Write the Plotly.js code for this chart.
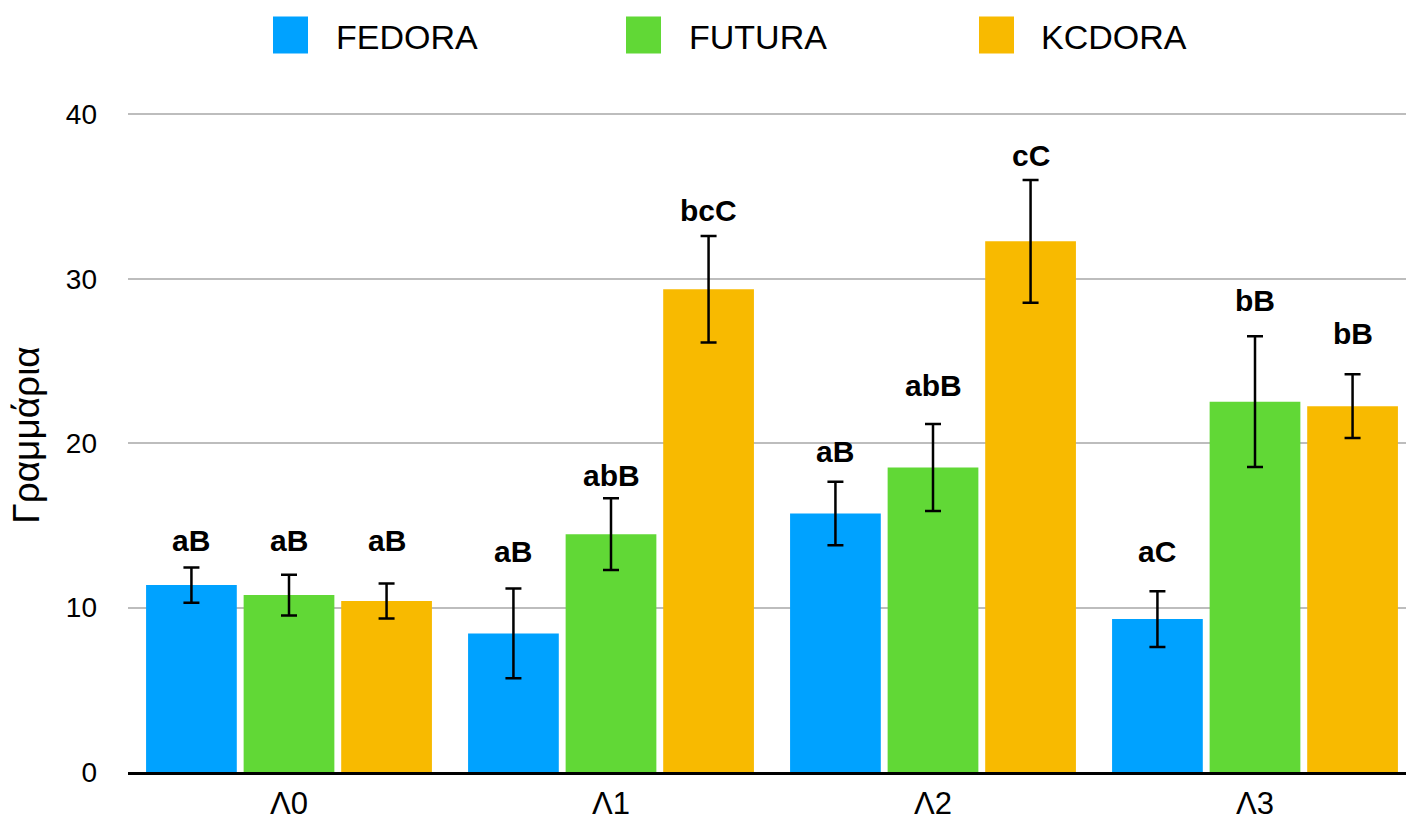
<!DOCTYPE html>
<html>
<head>
<meta charset="utf-8">
<script src="https://cdn.plot.ly/plotly-3.0.1.min.js"></script>
<style>html,body{margin:0;padding:0;background:#fff;}#chart{width:1406px;height:825px;}</style>
</head>
<body>
<div id="chart"></div>
<script>
var categories = ['Λ0', 'Λ1', 'Λ2', 'Λ3'];
var seriesNames = ['FEDORA', 'FUTURA', 'KCDORA'];
var fedora = [11.37, 8.43, 15.72, 9.30];
var fedoraErr = [1.07, 2.73, 1.93, 1.69];
var futura = [10.76, 14.47, 18.52, 22.53];
var futuraErr = [1.24, 2.18, 2.65, 3.97];
var kcdora = [10.40, 29.36, 32.28, 22.25];
var kcdoraErr = [1.07, 3.24, 3.73, 1.94];
var fedoraLabels = ['aB', 'aB', 'aB', 'aC'];
var futuraLabels = ['aB', 'abB', 'abB', 'bB'];
var kcdoraLabels = ['aB', 'bcC', 'cC', 'bB'];
var fedoraLabelY = [14.1, 13.4, 19.47, 13.39];
var futuraLabelY = [14.1, 18.05, 23.53, 28.69];
var kcdoraLabelY = [14.1, 34.16, 37.5, 26.69];
var yTicks = [0, 10, 20, 30, 40];

var colors = ['#00A2FF', '#61D836', '#F8BA00'];
var values = [fedora, futura, kcdora];
var errs = [fedoraErr, futuraErr, kcdoraErr];
var labels = [fedoraLabels, futuraLabels, kcdoraLabels];
var labelYs = [fedoraLabelY, futuraLabelY, kcdoraLabelY];

var W = 1406, H = 825;
var mL = 128, mR = 0, mB = 53;
var yMax = 41;
var plotH = (H - mB - 114) * yMax / 40;
var mT = H - mB - plotH;
var catPx = 322;
var xRangeMax = (W - mL - mR) / catPx - 0.5;
var bargap = 0.091;
var slot = (1 - bargap) / 3;

var font = 'Liberation Sans, Arial, Helvetica, sans-serif';

var traces = seriesNames.map(function (name, k) {
  return {
    type: 'bar',
    name: name,
    x: categories,
    y: values[k],
    marker: {color: colors[k]},
    error_y: {type: 'data', array: errs[k], visible: true, color: '#000', thickness: 2.5, width: 8},
    showlegend: false,
    hoverinfo: 'x+y'
  };
});

var annotations = [];
var shapes = [];
for (var k = 0; k < 3; k++) {
  for (var i = 0; i < categories.length; i++) {
    annotations.push({
      xref: 'x', yref: 'y',
      x: i + (k - 1) * slot,
      y: labelYs[k][i],
      text: '<b>' + labels[k][i] + '</b>',
      showarrow: false,
      xanchor: 'center', yanchor: 'middle',
      font: {family: font, size: 30, color: '#000'}
    });
  }
}

// custom legend (large swatches)
function px2x(px) { return (px - mL) / (W - mL - mR); }
function py2y(py) { return (H - mB - py) / plotH; }
var legendSwatchX = [273, 626, 979];
var legendTextX = [334, 687, 1039];
for (var k = 0; k < 3; k++) {
  shapes.push({
    type: 'rect', xref: 'paper', yref: 'paper',
    x0: px2x(legendSwatchX[k]), x1: px2x(legendSwatchX[k] + 35),
    y0: py2y(53), y1: py2y(16),
    fillcolor: colors[k], line: {width: 0}
  });
  annotations.push({
    xref: 'paper', yref: 'paper',
    x: px2x(legendTextX[k]), y: py2y(36.5),
    text: seriesNames[k], showarrow: false,
    xanchor: 'left', yanchor: 'middle',
    font: {family: font, size: 34, color: '#000'}
  });
}

var layout = {
  width: W, height: H,
  margin: {l: mL, r: mR, t: mT, b: mB, pad: 0},
  paper_bgcolor: '#fff', plot_bgcolor: '#fff',
  barmode: 'group', bargap: bargap, bargroupgap: 0.07,
  showlegend: false,
  font: {family: font, color: '#000'},
  xaxis: {
    type: 'category',
    range: [-0.5, xRangeMax],
    showgrid: false, zeroline: false,
    showline: true, linecolor: '#000', linewidth: 2.5,
    ticks: '', ticklabelstandoff: 2,
    tickfont: {family: font, size: 31, color: '#000'},
    fixedrange: true
  },
  yaxis: {
    range: [0, yMax],
    tickvals: yTicks,
    showgrid: true, gridcolor: '#bdbdbd', gridwidth: 2,
    zeroline: false, showline: false,
    ticks: '', ticklabelstandoff: 30,
    tickfont: {family: font, size: 28, color: '#000'},
    title: {text: 'Γραμμάρια', font: {family: font, size: 37, color: '#000'}, standoff: 14},
    fixedrange: true
  },
  annotations: annotations,
  shapes: shapes
};

Plotly.newPlot('chart', traces, layout, {displayModeBar: false, staticPlot: true});
</script>
</body>
</html>
